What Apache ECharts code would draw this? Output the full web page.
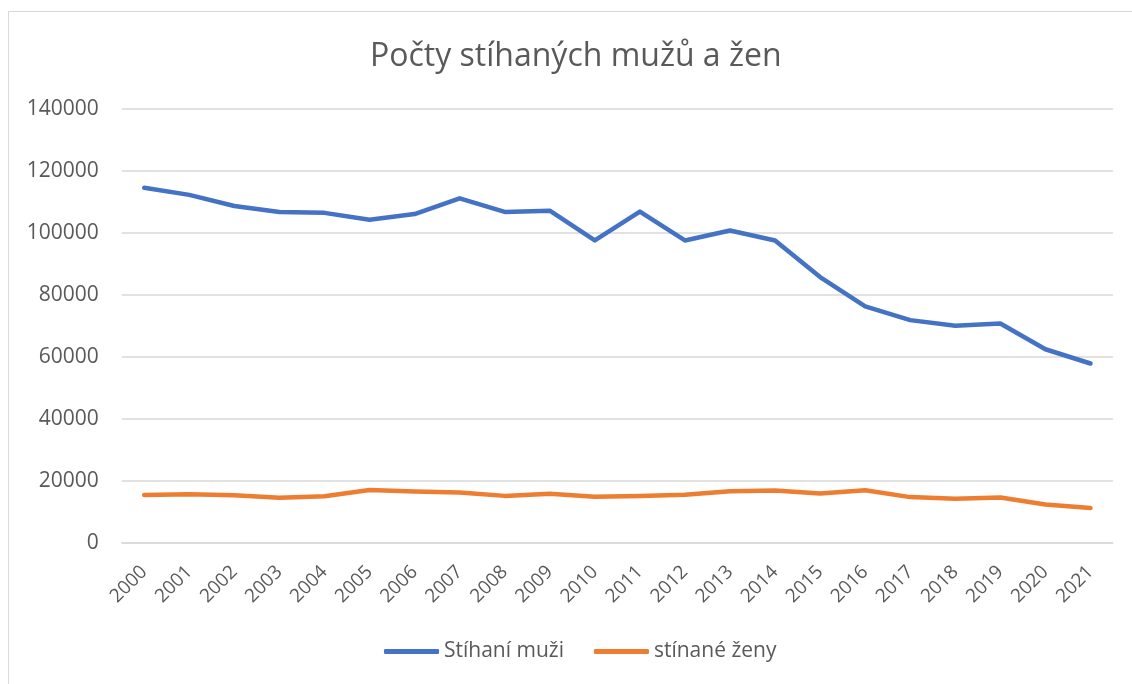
<!DOCTYPE html>
<html>
<head>
<meta charset="utf-8">
<script src="https://cdn.jsdelivr.net/npm/echarts@6/dist/echarts.min.js"></script>
<style>
html,body{margin:0;padding:0;background:#fff;}
#c{width:1132px;height:684px;}
</style>
</head>
<body>
<div id="c"></div>
<script>
const title = 'Počty stíhaných mužů a žen';
const years = ['2000','2001','2002','2003','2004','2005','2006','2007','2008','2009','2010','2011','2012','2013','2014','2015','2016','2017','2018','2019','2020','2021'];
const muzi = [114600,112300,108700,106800,106500,104300,106100,111200,106800,107200,97600,106900,97600,100800,97600,85800,76300,71900,70100,70800,62500,57900];
const zeny = [15500,15700,15400,14600,15100,17100,16600,16300,15200,15900,14900,15200,15600,16700,16900,16000,17000,14800,14300,14700,12400,11300];
const seriesNames = ['Stíhaní muži','stínané ženy'];
const yTicks = {min:0, max:140000, interval:20000};

const font = '"Open Sans", sans-serif';
const txt = '#595959';
const chart = echarts.init(document.getElementById('c'));
chart.setOption({
  animation:false,
  backgroundColor:'#fff',
  graphic:[{type:'rect',shape:{x:8.5,y:11.5,width:1300,height:800},style:{fill:'none',stroke:'#d9d9d9',lineWidth:1},silent:true,z:-1}],
  title:{text:title,left:365,top:36,textStyle:{fontFamily:font,fontSize:32,fontWeight:'normal',color:txt}},
  legend:{bottom:17,left:379,itemWidth:55,itemHeight:5,itemGap:30,icon:'roundRect',
    textStyle:{fontFamily:font,fontSize:21,color:txt},data:seriesNames},
  grid:{left:121.7,right:19,top:109,bottom:141,containLabel:false},
  xAxis:{type:'category',data:years,boundaryGap:true,
    axisLine:{show:true,lineStyle:{color:'#d9d9d9',width:1.5}},axisTick:{show:false},
    axisLabel:{rotate:45,margin:26,fontFamily:font,fontSize:19,color:txt,interval:0}},
  yAxis:{type:'value',min:yTicks.min,max:yTicks.max,interval:yTicks.interval,
    axisLine:{show:false},axisTick:{show:false},
    splitLine:{lineStyle:{color:'#d9d9d9',width:1.5}},
    axisLabel:{margin:23,fontFamily:font,fontSize:21,color:txt,formatter:v=>String(v)}},
  series:[
    {name:seriesNames[0],type:'line',data:muzi,showSymbol:false,symbol:'none',itemStyle:{color:'#4472C4'},lineStyle:{color:'#4472C4',width:4.5,cap:'round',join:'round'}},
    {name:seriesNames[1],type:'line',data:zeny,showSymbol:false,symbol:'none',itemStyle:{color:'#ED7D31'},lineStyle:{color:'#ED7D31',width:4.5,cap:'round',join:'round'}}
  ]
});
</script>
</body>
</html>
